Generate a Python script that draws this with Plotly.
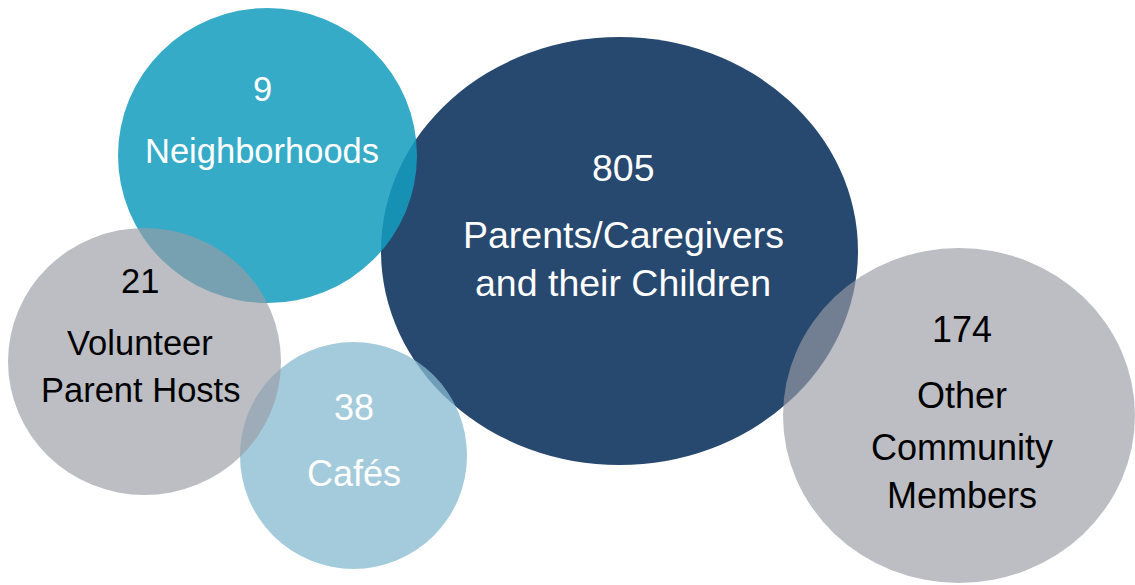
import plotly.graph_objects as go

# Reach figures, listed in drawing order (back to front)
categories = ["Parents/Caregivers and their Children", "Neighborhoods", "Cafés",
              "Volunteer Parent Hosts", "Other Community Members"]
values = [805, 9, 38, 21, 174]
label_lines = [
    ["Parents/Caregivers", "and their Children"],
    ["Neighborhoods"],
    ["Cafés"],
    ["Volunteer", "Parent Hosts"],
    ["Other", "Community", "Members"],
]

# Bubble geometry (plot units = pixels, y grows downward)
center_x = [619.5, 267.5, 353.5, 144.5, 959.0]
center_y = [251.0, 155.5, 455.5, 361.5, 415.5]
radius_x = [238.5, 149.5, 113.5, 136.5, 176.0]
radius_y = [214.0, 147.5, 113.5, 133.5, 167.5]

# Text placement for each bubble
text_x = [623, 262, 354, 140, 962]
number_y = [168, 89, 407, 281, 329]
line_y = [[235, 283], [151], [473], [343, 390], [395, 447, 495]]
font_size = [37.5, 34.5, 36, 34.5, 36]

# Styles
fill_colors = ["rgb(39,72,111)", "rgb(21,157,190)", "rgb(133,185,207)",
               "rgb(153,157,165)", "rgb(153,157,165)"]
fill_opacity = [1.0, 0.86, 0.75, 0.66, 0.66]
text_colors = ["white", "white", "white", "black", "black"]

W, H = 1135, 585
FONT = "Liberation Sans, Arial, sans-serif"

fig = go.Figure()
# invisible anchor trace so the axes are laid out
fig.add_trace(go.Scatter(x=center_x, y=center_y, mode="markers",
                         marker=dict(opacity=0), hoverinfo="skip", showlegend=False))

for i in range(len(categories)):
    fig.add_shape(type="circle", xref="x", yref="y",
                  x0=center_x[i] - radius_x[i], x1=center_x[i] + radius_x[i],
                  y0=center_y[i] - radius_y[i], y1=center_y[i] + radius_y[i],
                  fillcolor=fill_colors[i], opacity=fill_opacity[i],
                  line=dict(width=0), layer="above")
    fig.add_annotation(x=text_x[i], y=number_y[i], text=str(values[i]),
                       showarrow=False, xanchor="center", yanchor="middle",
                       font=dict(family=FONT, size=font_size[i], color=text_colors[i]))
    for line, ly in zip(label_lines[i], line_y[i]):
        fig.add_annotation(x=text_x[i], y=ly, text=line,
                           showarrow=False, xanchor="center", yanchor="middle",
                           font=dict(family=FONT, size=font_size[i], color=text_colors[i]))

fig.update_xaxes(range=[0, W], visible=False, showgrid=False, zeroline=False, fixedrange=True)
fig.update_yaxes(range=[H, 0], visible=False, showgrid=False, zeroline=False, fixedrange=True)
fig.update_layout(width=W, height=H, margin=dict(l=0, r=0, t=0, b=0),
                  paper_bgcolor="white", plot_bgcolor="white", showlegend=False)

fig.write_html("out.html")
